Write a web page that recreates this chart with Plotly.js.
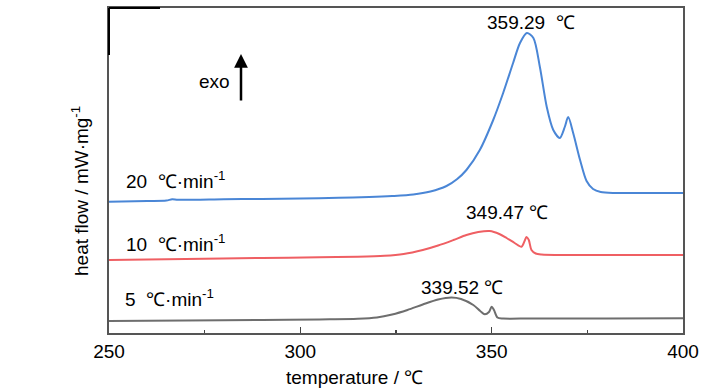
<!DOCTYPE html>
<html>
<head>
<meta charset="utf-8">
<script src="https://cdn.plot.ly/plotly-3.0.1.min.js"></script>
<style>html,body{margin:0;padding:0;background:#fff;}#chart{width:728px;height:390px;}</style>
</head>
<body>
<div id="chart"></div>
<script>
// Data (temperature in ℃, heat flow in arbitrary offset units)
const temp20 = [250, 260, 265, 266.5, 268, 280, 290, 300, 310, 318, 324, 329.5, 334, 338.2, 341, 343.4, 346.9, 350.4, 353, 355.6, 357.4, 359.2, 360.9, 362.6, 364.4, 366.1, 367.8, 369.1, 370.0, 371.3, 373.1, 374.8, 376.5, 378.5, 382, 390, 400];
const flow20 = [13.13, 13.2, 13.24, 13.37, 13.32, 13.37, 13.41, 13.45, 13.52, 13.6, 13.7, 13.85, 14.15, 14.7, 15.4, 16.3, 18.3, 21.3, 24.0, 27.0, 29.0, 30.0, 29.5, 26.6, 22.6, 20.3, 19.5, 20.6, 21.6, 20.0, 17.3, 15.2, 14.4, 14.1, 14.0, 14.0, 14.0];

const temp10 = [250, 270, 290, 305, 315, 322, 327, 332, 336, 340, 343.4, 346.5, 349.5, 352, 353.9, 356, 357.8, 358.6, 359.1, 359.7, 360.4, 361.5, 363, 370, 385, 400];
const flow10 = [7.3, 7.4, 7.5, 7.58, 7.63, 7.72, 7.9, 8.3, 8.75, 9.3, 9.8, 10.1, 10.2, 9.9, 9.5, 9.0, 8.63, 9.2, 9.6, 9.3, 8.3, 7.95, 7.85, 7.8, 7.8, 7.8];

const temp5 = [250, 270, 290, 305, 315, 320, 324, 328, 332, 336, 339.5, 342, 345.2, 347, 348.2, 349.3, 350, 350.6, 351.5, 353, 360, 380, 400];
const flow5 = [1.2, 1.25, 1.3, 1.36, 1.42, 1.55, 1.85, 2.3, 2.85, 3.35, 3.55, 3.4, 2.8, 2.2, 1.87, 2.1, 2.63, 2.3, 1.55, 1.45, 1.45, 1.46, 1.47];

const rateLabels = ["20  ℃·min<sup>-1</sup>", "10  ℃·min<sup>-1</sup>", "5  ℃·min<sup>-1</sup>"];
const peakTemps = [359.29, 349.47, 339.52];
const peakLabels = ["359.29  ℃", "349.47 ℃", "339.52 ℃"];
const xTicks = [250, 300, 350, 400];

const FONT = "'Liberation Sans', Arial, sans-serif";
const FS = 19;

const traces = [
  {x: temp20, y: flow20, mode: 'lines', line: {color: '#4a86d6', width: 2, shape: 'spline', smoothing: 0.8}, hoverinfo: 'skip'},
  {x: temp10, y: flow10, mode: 'lines', line: {color: '#ef5f63', width: 2, shape: 'spline', smoothing: 0.8}, hoverinfo: 'skip'},
  {x: temp5,  y: flow5,  mode: 'lines', line: {color: '#6e6e6e', width: 2, shape: 'spline', smoothing: 0.8}, hoverinfo: 'skip'}
];

// pixel helpers for annotation placement (plot area 109..683 x, 8..333 y)
const px = p => (p - 109) / 574;
const py = p => (333 - p) / 325;
const f = {family: FONT, size: FS, color: '#000'};

const annotations = [
  {xref: 'paper', yref: 'paper', x: px(124), y: py(180), xanchor: 'left', yanchor: 'middle', text: rateLabels[0], showarrow: false, font: f},
  {xref: 'paper', yref: 'paper', x: px(124), y: py(243), xanchor: 'left', yanchor: 'middle', text: rateLabels[1], showarrow: false, font: f},
  {xref: 'paper', yref: 'paper', x: px(123), y: py(298), xanchor: 'left', yanchor: 'middle', text: rateLabels[2], showarrow: false, font: f},
  {xref: 'paper', yref: 'paper', x: px(531), y: py(22), xanchor: 'center', yanchor: 'middle', text: peakLabels[0], showarrow: false, font: f},
  {xref: 'paper', yref: 'paper', x: px(507), y: py(212), xanchor: 'center', yanchor: 'middle', text: peakLabels[1], showarrow: false, font: f},
  {xref: 'paper', yref: 'paper', x: px(462), y: py(287), xanchor: 'center', yanchor: 'middle', text: peakLabels[2], showarrow: false, font: f},
  {xref: 'paper', yref: 'paper', x: px(214), y: py(81), xanchor: 'center', yanchor: 'middle', text: 'exo', showarrow: false, font: f},
  {xref: 'paper', yref: 'paper', x: px(241), y: py(54), ax: 0, ay: 48, text: '', showarrow: true, arrowhead: 2, arrowsize: 1.1, arrowwidth: 2.5, arrowcolor: '#000'},
  {xref: 'paper', yref: 'paper', x: px(354), y: py(377), xanchor: 'center', yanchor: 'middle', text: 'temperature / ℃', showarrow: false, font: f},
  {xref: 'paper', yref: 'paper', x: px(80), y: py(191), xanchor: 'center', yanchor: 'middle', textangle: -90, text: 'heat flow / mW·mg<sup>-1</sup>', showarrow: false, font: f}
];

const layout = {
  width: 728, height: 390,
  margin: {l: 109, r: 45, t: 8, b: 57},
  paper_bgcolor: '#fff', plot_bgcolor: '#fff',
  showlegend: false,
  font: f,
  xaxis: {
    range: [250, 400], tickvals: xTicks, ticktext: xTicks.map(String),
    ticks: 'inside', ticklen: 6, tickwidth: 1.5, tickcolor: '#444',
    minor: {tickvals: [275, 325, 375], ticks: 'inside', ticklen: 3, tickwidth: 1.5, tickcolor: '#444'},
    showline: true, linecolor: '#555', linewidth: 2, mirror: true,
    showgrid: false, zeroline: false,
    tickfont: f
  },
  yaxis: {
    range: [0, 32.5], showticklabels: false, ticks: '',
    showline: true, linecolor: '#555', linewidth: 2, mirror: true,
    showgrid: false, zeroline: false
  },
  annotations: annotations,
  shapes: [
    {type: 'line', xref: 'paper', yref: 'paper', x0: 0, x1: px(160), y0: 1, y1: 1, line: {color: '#000', width: 2}},
    {type: 'line', xref: 'paper', yref: 'paper', x0: 0, x1: 0, y0: 1, y1: py(55), line: {color: '#000', width: 2}}
  ]
};

Plotly.newPlot('chart', traces, layout, {staticPlot: true, displayModeBar: false});
</script>
</body>
</html>
